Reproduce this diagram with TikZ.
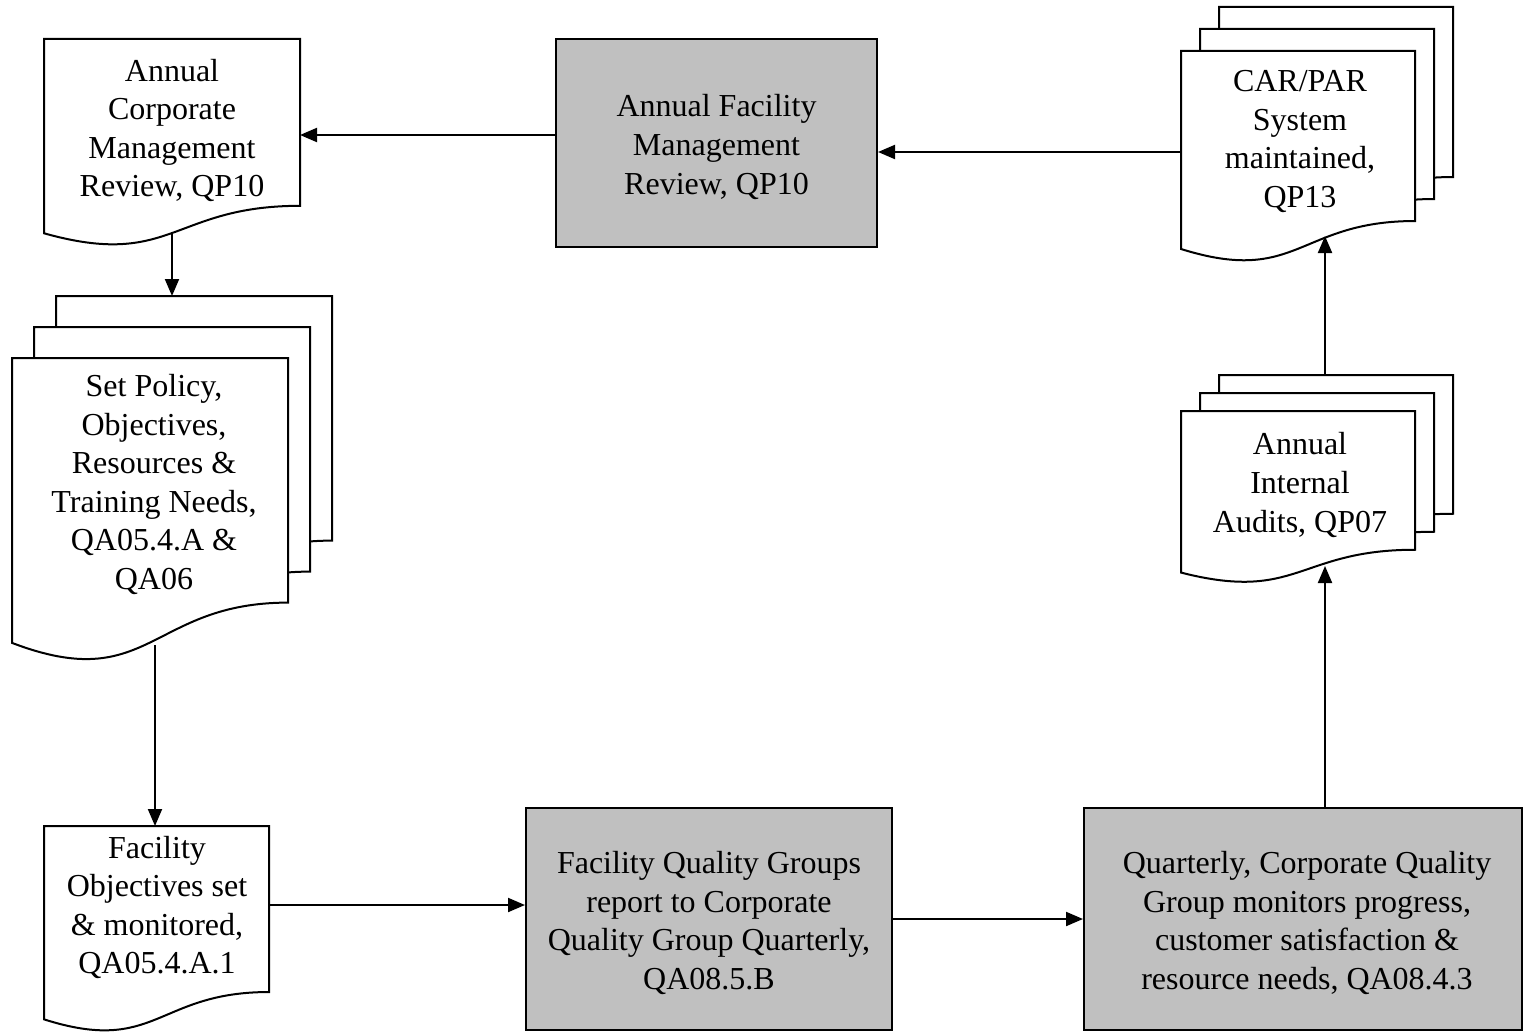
\documentclass[tikz,border=0pt]{standalone}
\usepackage{fontspec}
\setmainfont{Liberation Serif}
\usetikzlibrary{arrows.meta}
\definecolor{boxgray}{RGB}{192,192,192}
\tikzset{
  doc/.style={draw=black, fill=white, line width=1pt},
  procbox/.style={draw=black, fill=boxgray, line width=1pt, inner sep=0pt},
  txt/.style={align=center, inner sep=0pt, font=\fontsize{16}{19.3}\selectfont},
  flow/.style={line width=1pt, -{Triangle[length=8.5pt,width=7pt]}}
}
% flowchart "document" symbol: left, top, width, height (wavy bottom edge)
\newcommand\docshape[4]{%
  \path[doc] (#1,#2) -- ++(#3,0) -- ++(0,{0.802*#4})
    .. controls ({#1+0.5*#3},{#2+0.802*#4}) and ({#1+0.5*#3},{#2+1.107*#4})
    .. (#1,{#2+0.934*#4}) -- cycle;}
\begin{document}
\begin{tikzpicture}[x=0.5pt, y=-0.5pt]
\useasboundingbox (0,0) rectangle (1524,1032);

% Annual corporate management review
\docshape{44}{39}{256}{208}
\node[txt] (acmr) at (172,130.5) {Annual\\Corporate\\Management\\Review, QP10};
\coordinate (acmr-in) at (300,135);
\coordinate (acmr-out) at (172,233);

% Policy / objectives (multi-document)
\docshape{56}{296}{276}{305}
\docshape{34}{327}{276}{305}
\docshape{12}{358}{276}{305}
\node[txt] (policy) at (154,484.5) {Set Policy,\\Objectives,\\Resources \&\\Training Needs,\\QA05.4.A \&\\QA06};
\coordinate (policy-in) at (172,296);
\coordinate (policy-out) at (155,645);

% Facility objectives
\docshape{44}{826}{225}{207}
\node[txt] (facobj) at (157,907.5) {Facility\\Objectives set\\\& monitored,\\QA05.4.A.1};
\coordinate (facobj-in) at (155,826);
\coordinate (facobj-out) at (269,905);

% CAR/PAR system (multi-document)
\docshape{1219}{7}{234}{212}
\docshape{1200}{29}{234}{212}
\docshape{1181}{51}{234}{212}
\node[txt] (carpar) at (1300,141.5) {CAR/PAR\\System\\maintained,\\QP13};
\coordinate (carpar-out) at (1181,152);
\coordinate (carpar-in) at (1325,236);

% Internal audits (multi-document)
\docshape{1219}{375}{234}{173}
\docshape{1200}{393}{234}{173}
\docshape{1181}{411}{234}{173}
\node[txt] (audits) at (1300,485) {Annual\\Internal\\Audits, QP07};
\coordinate (audits-out) at (1325,375);
\coordinate (audits-in) at (1325,566);

% Process boxes
\node[procbox, minimum width=160.5pt, minimum height=104pt] (review) at (716.5,143) {};
\node[txt] (review-t) at (716.5,147) {Annual Facility\\Management\\Review, QP10};
\node[procbox, minimum width=183pt, minimum height=111pt] (fqg) at (709,919) {};
\node[txt] (fqg-t) at (709,923) {Facility Quality Groups\\report to Corporate\\Quality Group Quarterly,\\QA08.5.B};
\node[procbox, minimum width=219pt, minimum height=111pt] (cqg) at (1303,919) {};
\node[txt] (cqg-t) at (1307,923) {Quarterly, Corporate Quality\\Group monitors progress,\\customer satisfaction \&\\resource needs, QA08.4.3};

% Connectors
\draw[flow] (review.west |- acmr-in) -- (acmr-in);
\draw[flow] (carpar-out) -- (review.east |- carpar-out);
\draw[flow] (acmr-out) -- (policy-in);
\draw[flow] (policy-out) -- (facobj-in);
\draw[flow] (facobj-out) -- (fqg.west |- facobj-out);
\draw[flow] (fqg.east) -- (cqg.west);
\draw[flow] (audits-in |- cqg.north) -- (audits-in);
\draw[flow] (audits-out) -- (carpar-in);
\end{tikzpicture}
\end{document}
